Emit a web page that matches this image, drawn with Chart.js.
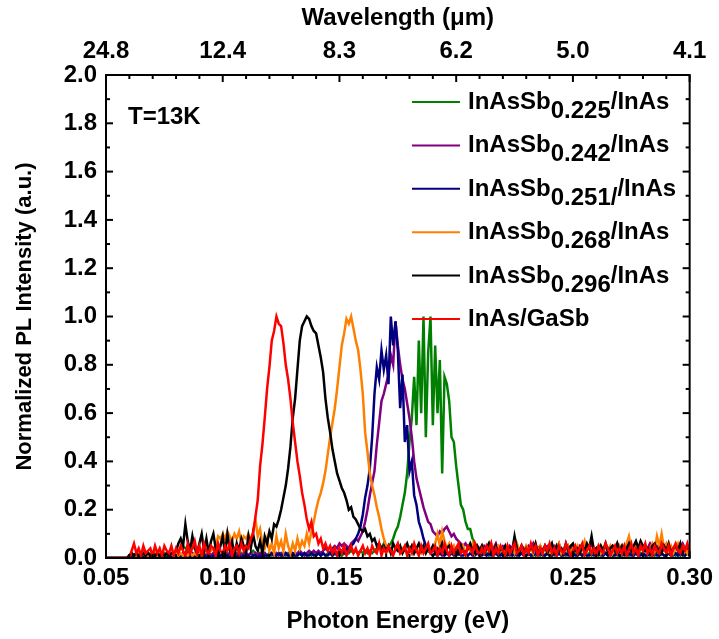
<!DOCTYPE html>
<html><head><meta charset="utf-8">
<script src="https://cdn.jsdelivr.net/npm/chart.js@4.4.1/dist/chart.umd.min.js"></script>
<style>html,body{margin:0;padding:0;background:#fff}#wrap{width:719px;height:639px;position:relative}</style>
</head><body><div id="wrap"><canvas id="c"></canvas></div>
<script>
// Sampling grid of the spectra: photon energy from 0.050 eV in 0.001 eV steps (251 points)
const E_START = 0.05, E_STEP = 0.001, N_POINTS = 251;

const energyTicks = [0.05, 0.10, 0.15, 0.20, 0.25, 0.30];
const energyTickLabels = ['0.05', '0.10', '0.15', '0.20', '0.25', '0.30'];
const wavelengthTickLabels = ['24.8', '12.4', '8.3', '6.2', '5.0', '4.1'];
const intensityTicks = [0, 0.2, 0.4, 0.6, 0.8, 1.0, 1.2, 1.4, 1.6, 1.8, 2.0];
const intensityTickLabels = ['0.0', '0.2', '0.4', '0.6', '0.8', '1.0', '1.2', '1.4', '1.6', '1.8', '2.0'];

const seriesNames = ['InAsSb0.225/InAs', 'InAsSb0.242/InAs', 'InAsSb0.251//InAs', 'InAsSb0.268/InAs', 'InAsSb0.296/InAs', 'InAs/GaSb'];
const seriesColors = ['#008000', '#800080', '#000080', '#ff8000', '#000000', '#ff0000'];

// Normalized PL intensity, one value per grid point (rows of 10 = 0.01 eV)
const sb225 = [
0,0,0,0,0,0,0,0,0,0,
0.01,0.02,0.01,0.02,0.01,0.02,0.01,0.02,0.01,0.02,
0.01,0.02,0.01,0.02,0.01,0.02,0.01,0.02,0.01,0.02,
0.02,0.03,0.04,0.05,0.04,0.03,0.02,0.01,0.02,0.01,
0.02,0.01,0.02,0.01,0.02,0.01,0.02,0.01,0.02,0.01,
0.02,0.01,0.02,0.01,0.02,0.01,0.02,0.01,0.02,0.01,
0.02,0.01,0.02,0.03,0.02,0.01,0.02,0.01,0.02,0.01,
0.02,0.01,0.02,0.01,0.02,0.01,0.02,0.01,0.02,0.01,
0.01,0.02,0.01,0.02,0.01,0.02,0.01,0.02,0.01,0.02,
0.01,0.02,0.01,0.02,0.01,0.02,0.02,0.01,0.02,0.01,
0.02,0.01,0.02,0.03,0.02,0.03,0.02,0.03,0.02,0.03,
0.02,0.03,0.02,0.03,0.02,0.03,0.04,0.05,0.04,0.06,
0.04,0.05,0.06,0.08,0.11,0.13,0.17,0.22,0.27,0.35,
0.48,0.58,0.75,0.55,0.90,0.60,1.00,0.50,0.85,1.00,
0.55,0.88,0.60,0.82,0.35,0.75,0.72,0.65,0.50,0.48,
0.38,0.30,0.22,0.20,0.15,0.12,0.12,0.08,0.06,0.04,
0.03,0.02,0.03,0.02,0.01,0.02,0.03,0.02,0.01,0.02,
0.02,0.01,0.02,0.01,0.02,0.01,0.02,0.01,0.02,0.01,
0.01,0.02,0.01,0.02,0.01,0.02,0.01,0.02,0.01,0.02,
0.02,0.01,0.02,0.01,0.02,0.01,0.02,0.01,0.02,0.01,
0.01,0.02,0.01,0.02,0.01,0.02,0.01,0.02,0.01,0.02,
0.02,0.01,0.02,0.01,0.02,0.01,0.02,0.01,0.02,0.01,
0.01,0.02,0.01,0.02,0.01,0.02,0.01,0.02,0.01,0.02,
0.02,0.01,0.02,0.01,0.02,0.01,0.02,0.01,0.02,0.01,
0.01,0.02,0.01,0.02,0.01,0.02,0.01,0.02,0.01,0.02,
0.02];

const sb242 = [
0,0,0,0,0,0,0,0,0,0,
0.01,0.02,0.01,0.02,0.01,0.01,0.02,0.01,0.02,0.01,
0.02,0.01,0.02,0.01,0.02,0.01,0.01,0.02,0.01,0.02,
0.01,0.02,0.01,0.02,0.01,0.02,0.01,0.02,0.01,0.02,
0.02,0.01,0.02,0.01,0.02,0.01,0.02,0.01,0.02,0.01,
0.01,0.02,0.01,0.02,0.01,0.02,0.01,0.02,0.01,0.02,
0.02,0.01,0.02,0.01,0.02,0.01,0.02,0.01,0.02,0.01,
0.01,0.02,0.01,0.02,0.01,0.02,0.01,0.02,0.01,0.02,
0.02,0.01,0.02,0.03,0.02,0.01,0.02,0.03,0.02,0.03,
0.02,0.03,0.02,0.03,0.04,0.03,0.02,0.04,0.05,0.04,
0.06,0.05,0.06,0.05,0.04,0.06,0.07,0.08,0.07,0.09,
0.11,0.15,0.20,0.26,0.31,0.36,0.47,0.56,0.65,0.68,
0.72,0.76,0.84,0.80,0.98,0.88,0.80,0.74,0.70,0.64,
0.58,0.50,0.40,0.33,0.29,0.25,0.21,0.18,0.15,0.14,
0.11,0.10,0.09,0.11,0.10,0.12,0.13,0.11,0.09,0.10,
0.08,0.07,0.06,0.05,0.06,0.04,0.05,0.04,0.03,0.05,
0.04,0.03,0.05,0.04,0.03,0.05,0.04,0.06,0.03,0.04,
0.05,0.04,0.03,0.05,0.04,0.06,0.04,0.03,0.05,0.04,
0.03,0.05,0.04,0.06,0.03,0.04,0.05,0.03,0.04,0.05,
0.04,0.03,0.05,0.04,0.06,0.03,0.04,0.05,0.04,0.03,
0.05,0.04,0.03,0.05,0.04,0.03,0.05,0.04,0.06,0.03,
0.04,0.05,0.03,0.04,0.05,0.04,0.03,0.05,0.04,0.06,
0.03,0.04,0.05,0.03,0.04,0.05,0.04,0.03,0.05,0.04,
0.05,0.03,0.04,0.06,0.04,0.03,0.05,0.04,0.03,0.05,
0.04,0.05,0.03,0.04,0.05,0.03,0.04,0.06,0.04,0.03,
0.04];

const sb251 = [
0,0,0,0,0,0,0,0,0,0,
0.01,0.00,0.01,0.01,0.00,0.01,0.00,0.01,0.01,0.00,
0.01,0.00,0.01,0.00,0.01,0.01,0.00,0.01,0.00,0.01,
0.01,0.00,0.01,0.01,0.00,0.01,0.00,0.01,0.00,0.01,
0.00,0.01,0.01,0.00,0.01,0.00,0.01,0.01,0.00,0.01,
0.01,0.00,0.01,0.00,0.01,0.01,0.00,0.01,0.00,0.01,
0.00,0.01,0.00,0.01,0.01,0.00,0.01,0.00,0.01,0.01,
0.01,0.02,0.01,0.01,0.02,0.01,0.01,0.02,0.01,0.01,
0.02,0.01,0.01,0.02,0.01,0.02,0.01,0.01,0.02,0.01,
0.01,0.02,0.01,0.02,0.01,0.01,0.02,0.01,0.02,0.02,
0.02,0.03,0.02,0.04,0.03,0.05,0.06,0.08,0.10,0.13,
0.18,0.25,0.30,0.37,0.50,0.68,0.79,0.74,0.86,0.78,
0.84,0.72,1.00,0.88,0.98,0.86,0.62,0.76,0.48,0.55,
0.36,0.40,0.26,0.22,0.15,0.12,0.08,0.05,0.03,0.02,
0.01,0.02,0.01,0.02,0.01,0.01,0.02,0.01,0.02,0.01,
0.01,0.02,0.01,0.01,0.02,0.01,0.02,0.01,0.01,0.02,
0.01,0.01,0.02,0.01,0.02,0.01,0.01,0.02,0.01,0.01,
0.02,0.01,0.01,0.02,0.01,0.02,0.01,0.01,0.02,0.01,
0.01,0.02,0.01,0.01,0.02,0.01,0.02,0.01,0.01,0.02,
0.01,0.01,0.02,0.01,0.02,0.01,0.01,0.02,0.01,0.01,
0.02,0.01,0.01,0.02,0.01,0.02,0.01,0.01,0.02,0.01,
0.01,0.02,0.01,0.01,0.02,0.01,0.02,0.01,0.01,0.02,
0.01,0.01,0.02,0.01,0.02,0.01,0.01,0.02,0.01,0.01,
0.02,0.01,0.01,0.02,0.01,0.02,0.01,0.01,0.02,0.01,
0.01,0.02,0.01,0.01,0.02,0.01,0.02,0.01,0.01,0.02,
0.01];

const sb268 = [
0,0,0,0,0,0,0,0,0,0,
0.01,0.02,0.01,0.01,0.02,0.01,0.02,0.01,0.01,0.02,
0.01,0.02,0.01,0.02,0.01,0.01,0.02,0.01,0.02,0.01,
0.02,0.01,0.02,0.01,0.02,0.01,0.02,0.01,0.02,0.01,
0.02,0.01,0.02,0.03,0.02,0.03,0.04,0.05,0.09,0.08,
0.10,0.08,0.11,0.09,0.07,0.10,0.08,0.11,0.06,0.09,
0.08,0.10,0.07,0.11,0.16,0.09,0.12,0.06,0.04,0.08,
0.03,0.06,0.02,0.09,0.04,0.07,0.03,0.10,0.05,0.02,
0.06,0.03,0.08,0.04,0.07,0.05,0.10,0.06,0.11,0.15,
0.20,0.24,0.27,0.31,0.36,0.43,0.50,0.56,0.62,0.70,
0.79,0.88,0.93,0.99,0.97,1.00,0.95,0.90,0.86,0.78,
0.68,0.52,0.44,0.35,0.30,0.26,0.21,0.17,0.12,0.08,
0.05,0.03,0.04,0.02,0.03,0.05,0.02,0.04,0.03,0.02,
0.03,0.05,0.02,0.04,0.03,0.02,0.05,0.03,0.04,0.02,
0.03,0.06,0.10,0.05,0.11,0.07,0.04,0.06,0.03,0.05,
0.02,0.04,0.03,0.05,0.02,0.04,0.03,0.06,0.02,0.04,
0.03,0.05,0.02,0.04,0.03,0.06,0.02,0.04,0.05,0.03,
0.04,0.02,0.05,0.03,0.04,0.02,0.06,0.03,0.04,0.02,
0.05,0.03,0.04,0.02,0.06,0.03,0.05,0.02,0.04,0.03,
0.02,0.05,0.03,0.04,0.06,0.02,0.04,0.03,0.05,0.02,
0.04,0.03,0.05,0.02,0.04,0.07,0.03,0.05,0.02,0.04,
0.03,0.05,0.02,0.04,0.06,0.03,0.05,0.02,0.04,0.03,
0.05,0.02,0.04,0.06,0.09,0.04,0.03,0.05,0.02,0.04,
0.03,0.05,0.02,0.04,0.06,0.03,0.09,0.05,0.10,0.04,
0.06,0.03,0.05,0.02,0.04,0.06,0.03,0.05,0.04,0.02,
0.04];

const sb296 = [
0,0,0,0,0,0,0,0,0,0,
0.01,0.02,0.01,0.02,0.01,0.01,0.02,0.01,0.02,0.01,
0.02,0.01,0.02,0.01,0.02,0.01,0.02,0.01,0.02,0.02,
0.03,0.06,0.08,0.05,0.14,0.07,0.03,0.09,0.04,0.02,
0.06,0.10,0.03,0.08,0.02,0.07,0.10,0.04,0.01,0.05,
0.09,0.02,0.10,0.04,0.07,0.01,0.06,0.03,0.08,0.05,
0.02,0.09,0.04,0.10,0.05,0.03,0.07,0.02,0.09,0.06,
0.11,0.08,0.14,0.13,0.16,0.20,0.25,0.30,0.37,0.46,
0.58,0.66,0.78,0.90,0.96,0.98,1.00,0.99,0.96,0.94,
0.93,0.88,0.83,0.77,0.66,0.58,0.52,0.45,0.40,0.35,
0.32,0.29,0.27,0.24,0.20,0.21,0.17,0.16,0.14,0.12,
0.11,0.12,0.09,0.10,0.07,0.08,0.05,0.06,0.04,0.05,
0.03,0.05,0.02,0.06,0.04,0.03,0.05,0.02,0.04,0.06,
0.03,0.05,0.02,0.04,0.06,0.03,0.05,0.02,0.04,0.03,
0.05,0.02,0.04,0.03,0.06,0.02,0.04,0.05,0.03,0.02,
0.04,0.02,0.05,0.03,0.02,0.04,0.06,0.03,0.02,0.05,
0.03,0.05,0.02,0.04,0.06,0.02,0.03,0.05,0.02,0.04,
0.03,0.05,0.02,0.04,0.03,0.09,0.04,0.02,0.05,0.03,
0.04,0.02,0.05,0.03,0.06,0.02,0.04,0.03,0.05,0.02,
0.04,0.06,0.02,0.05,0.03,0.04,0.02,0.06,0.03,0.05,
0.06,0.03,0.04,0.02,0.05,0.03,0.06,0.04,0.09,0.03,
0.04,0.02,0.05,0.03,0.06,0.02,0.04,0.05,0.03,0.06,
0.03,0.05,0.02,0.04,0.06,0.03,0.05,0.07,0.04,0.07,
0.05,0.03,0.04,0.02,0.05,0.06,0.03,0.04,0.02,0.05,
0.03,0.06,0.02,0.04,0.05,0.03,0.06,0.02,0.04,0.05,
0.03];

const gasb = [
0,0,0,0,0,0,0,0,0,0,
0,0.03,0.06,0.02,0.04,0.01,0.05,0.02,0.03,0.04,
0.01,0.05,0.02,0.04,0.01,0.05,0.03,0.02,0.05,0.01,
0.04,0.02,0.05,0.03,0.01,0.06,0.02,0.04,0.07,0.02,
0.05,0.01,0.06,0.03,0.02,0.05,0.04,0.01,0.06,0.03,
0.02,0.05,0.03,0.06,0.01,0.04,0.05,0.02,0.06,0.03,
0.05,0.04,0.08,0.10,0.17,0.24,0.38,0.47,0.58,0.70,
0.79,0.90,0.94,1.00,0.97,0.96,0.89,0.80,0.74,0.66,
0.56,0.48,0.40,0.34,0.27,0.22,0.16,0.12,0.15,0.09,
0.10,0.06,0.08,0.04,0.06,0.03,0.05,0.02,0.04,0.01,
0.04,0.02,0.05,0.01,0.03,0.05,0.02,0.04,0.01,0.03,
0.05,0.02,0.04,0.01,0.05,0.03,0.02,0.06,0.01,0.04,
0.02,0.05,0.03,0.01,0.04,0.06,0.02,0.03,0.05,0.01,
0.04,0.02,0.06,0.03,0.01,0.05,0.02,0.04,0.06,0.02,
0.03,0.05,0.01,0.04,0.02,0.06,0.03,0.01,0.05,0.02,
0.04,0.06,0.02,0.03,0.01,0.05,0.04,0.02,0.06,0.03,
0.01,0.04,0.02,0.05,0.03,0.06,0.01,0.04,0.02,0.05,
0.03,0.01,0.05,0.02,0.04,0.06,0.02,0.03,0.05,0.01,
0.04,0.02,0.06,0.03,0.05,0.01,0.04,0.02,0.05,0.03,
0.06,0.02,0.04,0.01,0.05,0.03,0.02,0.06,0.04,0.01,
0.03,0.05,0.02,0.04,0.06,0.01,0.03,0.05,0.02,0.04,
0.01,0.05,0.03,0.02,0.06,0.04,0.01,0.03,0.05,0.02,
0.04,0.02,0.05,0.01,0.03,0.06,0.02,0.04,0.01,0.05,
0.03,0.06,0.02,0.04,0.01,0.05,0.03,0.02,0.06,0.04,
0.02,0.05,0.01,0.04,0.06,0.03,0.02,0.05,0.03,0.06,
0.02];

const seriesValues = [sb225, sb242, sb251, sb268, sb296, gasb];
const energies = Array.from({length: N_POINTS}, (_, i) => +(E_START + i * E_STEP).toFixed(3));

const FONT = '"Liberation Sans", Arial, sans-serif';
const legendParts = [
  ['InAsSb', '0.225', '/InAs'],
  ['InAsSb', '0.242', '/InAs'],
  ['InAsSb', '0.251/', '/InAs'],
  ['InAsSb', '0.268', '/InAs'],
  ['InAsSb', '0.296', '/InAs'],
  ['InAs/GaSb', '', '']
];

const datasets = seriesValues.map((vals, s) => ({
  label: seriesNames[s],
  data: vals.map((v, i) => ({x: energies[i], y: v})),
  borderColor: seriesColors[s],
  backgroundColor: seriesColors[s],
  borderWidth: 2.5,
  pointRadius: 0,
  tension: 0,
  fill: false,
  order: seriesValues.length - 1 - s
}));

function seg(ctx, x1, y1, x2, y2) { ctx.beginPath(); ctx.moveTo(x1, y1); ctx.lineTo(x2, y2); ctx.stroke(); }

const framePlugin = {
  id: 'frame',
  afterDatasetsDraw(chart) {
    const {ctx, chartArea: a, scales} = chart;
    ctx.save();
    ctx.strokeStyle = '#000';
    ctx.lineWidth = 2;
    ctx.strokeRect(a.left, a.top, a.right - a.left, a.bottom - a.top);
    for (let k = 0; k <= 20; k++) {
      const p = scales.y.getPixelForValue(k * 0.1);
      const len = k % 2 === 0 ? 7 : 4;
      seg(ctx, a.left, p, a.left + len, p);
      seg(ctx, a.right, p, a.right - len, p);
    }
    for (let k = 0; k <= 25; k++) {
      const p = scales.x.getPixelForValue(0.05 + k * 0.01);
      const len = k % 5 === 0 ? 7 : 4;
      seg(ctx, p, a.bottom, p, a.bottom - len);
      seg(ctx, p, a.top, p, a.top + len);
    }
    ctx.fillStyle = '#000';
    ctx.textBaseline = 'alphabetic';
    ctx.textAlign = 'left';
    ctx.font = 'bold 24px ' + FONT;
    ctx.fillText('T=13K', a.left + 22, a.top + 49);
    const mainFont = 'bold 24px ' + FONT, subFont = 'bold 24px ' + FONT;
    legendParts.forEach((parts, i) => {
      const ly = a.top + 27 + i * 43.4;
      ctx.strokeStyle = seriesColors[i];
      ctx.lineWidth = 2;
      seg(ctx, a.left + 306, ly, a.left + 354, ly);
      let x = a.left + 362;
      ctx.fillStyle = '#000';
      ctx.font = mainFont;
      ctx.fillText(parts[0], x, ly + 7);
      x += ctx.measureText(parts[0]).width;
      if (parts[1]) {
        ctx.font = subFont;
        ctx.fillText(parts[1], x, ly + 16);
        x += ctx.measureText(parts[1]).width;
      }
      if (parts[2]) {
        ctx.font = mainFont;
        ctx.fillText(parts[2], x, ly + 7);
      }
    });
    ctx.restore();
  }
};

const tickFont = {family: FONT, size: 24, weight: 'bold'};
function setTicks(list) { return (scale) => { scale.ticks = list.map(v => ({value: v})); }; }
function labelFor(list, labels) {
  return (v) => { const i = list.findIndex(t => Math.abs(t - v) < 1e-6); return i >= 0 ? labels[i] : ''; };
}

new Chart(document.getElementById('c'), {
  type: 'line',
  data: {datasets},
  options: {
    responsive: true,
    maintainAspectRatio: false,
    animation: false,
    layout: {padding: {left: 0, right: 24, top: 0, bottom: 0}},
    plugins: {legend: {display: false}, tooltip: {enabled: false}},
    scales: {
      x: {
        type: 'linear', position: 'bottom', min: 0.05, max: 0.30,
        afterBuildTicks: setTicks(energyTicks),
        afterFit: (s) => { s.height = 81; },
        grid: {display: false, drawTicks: false},
        border: {display: false},
        ticks: {font: tickFont, color: '#000', padding: 6, maxRotation: 0, autoSkip: false,
                callback: labelFor(energyTicks, energyTickLabels)},
        title: {display: true, text: 'Photon Energy (eV)', color: '#000', font: tickFont, padding: {top: 0, bottom: 3}}
      },
      x2: {
        type: 'linear', position: 'top', min: 0.05, max: 0.30,
        afterBuildTicks: setTicks(energyTicks),
        afterFit: (s) => { s.height = 75; },
        grid: {display: false, drawTicks: false},
        border: {display: false},
        ticks: {font: tickFont, color: '#000', padding: 9, maxRotation: 0, autoSkip: false,
                callback: labelFor(energyTicks, wavelengthTickLabels)},
        title: {display: true, text: 'Wavelength (\u03bcm)', color: '#000', font: tickFont, padding: {top: 4, bottom: 0}}
      },
      y: {
        type: 'linear', position: 'left', min: 0, max: 2,
        afterBuildTicks: setTicks(intensityTicks),
        afterFit: (s) => { s.width = 106; },
        grid: {display: false, drawTicks: false},
        border: {display: false},
        ticks: {font: tickFont, color: '#000', padding: 9, autoSkip: false,
                callback: labelFor(intensityTicks, intensityTickLabels)},
        title: {display: true, text: 'Normalized PL Intensity (a.u.)', color: '#000',
                font: {family: FONT, size: 22, weight: 'bold'}, padding: {top: 12, bottom: 0}}
      }
    }
  },
  plugins: [framePlugin]
});
</script>
</body></html>
